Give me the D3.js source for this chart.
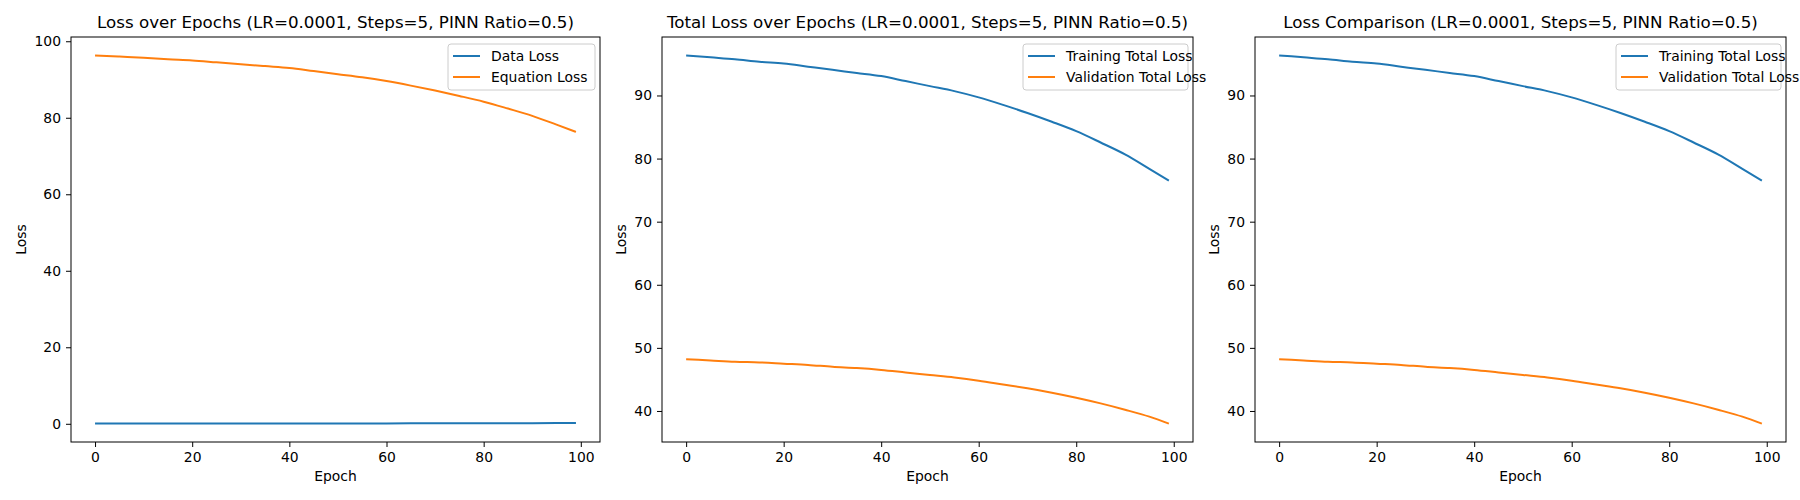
<!DOCTYPE html>
<html>
<head>
<meta charset="utf-8">
<script src="https://cdn.jsdelivr.net/npm/d3@7.9.0/dist/d3.min.js"></script>
<style>
  body { margin: 0; background: #fff; }
  text { font-family: "DejaVu Sans", sans-serif; fill: #000; }
</style>
</head>
<body>
<svg id="chart" width="1800" height="500"></svg>
<script>
// Epochs
const epochs = [0, 5, 10, 15, 20, 25, 30, 35, 40, 45, 50, 55, 60, 65, 70, 75, 80, 85, 90, 95, 99];
const dataLoss = [0.05, 0.05, 0.05, 0.05, 0.06, 0.06, 0.06, 0.07, 0.07, 0.08, 0.08, 0.09, 0.10, 0.11, 0.12, 0.13, 0.14, 0.15, 0.17, 0.18, 0.2];
const equationLoss = [96.3, 96.0, 95.7, 95.3, 95.0, 94.5, 94.0, 93.5, 93.0, 92.2, 91.4, 90.6, 89.6, 88.4, 87.1, 85.7, 84.2, 82.4, 80.5, 78.2, 76.3];
const trainingTotal = [96.35, 96.05, 95.75, 95.35, 95.06, 94.56, 94.06, 93.57, 93.07, 92.28, 91.48, 90.69, 89.7, 88.51, 87.22, 85.83, 84.34, 82.55, 80.67, 78.38, 76.5];
const validationTotal = [48.2, 48.0, 47.8, 47.7, 47.5, 47.3, 47.0, 46.8, 46.5, 46.1, 45.7, 45.3, 44.8, 44.2, 43.6, 42.9, 42.1, 41.2, 40.2, 39.1, 38.0];

const xTicks = [0, 20, 40, 60, 80, 100];
const blue = '#1f77b4', orange = '#ff7f0e';

const panels = [
  { left: 71, right: 600, title: 'Loss over Epochs (LR=0.0001, Steps=5, PINN Ratio=0.5)',
    series: [{ name: 'Data Loss', values: dataLoss, color: blue },
             { name: 'Equation Loss', values: equationLoss, color: orange }] },
  { left: 662, right: 1193, title: 'Total Loss over Epochs (LR=0.0001, Steps=5, PINN Ratio=0.5)',
    series: [{ name: 'Training Total Loss', values: trainingTotal, color: blue },
             { name: 'Validation Total Loss', values: validationTotal, color: orange }] },
  { left: 1255, right: 1786, title: 'Loss Comparison (LR=0.0001, Steps=5, PINN Ratio=0.5)',
    series: [{ name: 'Training Total Loss', values: trainingTotal, color: blue },
             { name: 'Validation Total Loss', values: validationTotal, color: orange }] }
];

const plotTop = 37, plotBottom = 442;
const svg = d3.select('#chart');

function pad(ext) {
  const m = (ext[1] - ext[0]) * 0.05;
  return [ext[0] - m, ext[1] + m];
}

panels.forEach((p) => {
  const g = svg.append('g');
  const x = d3.scaleLinear().domain(pad([0, 99])).range([p.left, p.right]);
  const allY = p.series.flatMap((s) => s.values);
  const y = d3.scaleLinear().domain(pad(d3.extent(allY))).range([plotBottom, plotTop]);

  const line = d3.line().x((d, i) => x(epochs[i])).y((d) => y(d)).curve(d3.curveMonotoneX);
  p.series.forEach((s) => {
    g.append('path').datum(s.values).attr('d', line)
      .attr('fill', 'none').attr('stroke', s.color).attr('stroke-width', 2);
  });

  // axes
  const xa = g.append('g').attr('transform', `translate(0,${plotBottom})`)
    .call(d3.axisBottom(x).tickValues(xTicks).tickSize(5).tickPadding(5));
  const ya = g.append('g').attr('transform', `translate(${p.left},0)`)
    .call(d3.axisLeft(y).ticks(6).tickSize(5).tickPadding(5));
  [xa, ya].forEach((a) => {
    a.select('.domain').remove();
    a.selectAll('text').style('font-size', '13.9px');
  });

  g.append('rect').attr('x', p.left).attr('y', plotTop)
    .attr('width', p.right - p.left).attr('height', plotBottom - plotTop)
    .attr('fill', 'none').attr('stroke', '#000').attr('stroke-width', 1);

  g.append('text').attr('x', (p.left + p.right) / 2).attr('y', plotTop - 9)
    .attr('text-anchor', 'middle').style('font-size', '16.7px').text(p.title);
  g.append('text').attr('x', (p.left + p.right) / 2).attr('y', 481)
    .attr('text-anchor', 'middle').style('font-size', '13.9px').text('Epoch');
  const yl = p.left === 71 ? 26 : p.left - 36;
  g.append('text').attr('transform', `translate(${yl},${(plotTop + plotBottom) / 2}) rotate(-90)`)
    .attr('text-anchor', 'middle').style('font-size', '13.9px').text('Loss');

  // legend
  const lw = p.series[0].name === 'Data Loss' ? 147 : 165;
  const lg = g.append('g').attr('transform', `translate(${p.right - 5 - lw},${plotTop + 7})`);
  lg.append('rect').attr('width', lw).attr('height', 46).attr('rx', 3)
    .attr('fill', '#fff').attr('fill-opacity', 0.8).attr('stroke', '#ccc');
  p.series.forEach((s, i) => {
    const yy = 12 + i * 21;
    lg.append('line').attr('x1', 5).attr('x2', 32).attr('y1', yy).attr('y2', yy)
      .attr('stroke', s.color).attr('stroke-width', 2);
    lg.append('text').attr('x', 43).attr('y', yy + 5).style('font-size', '13.9px').text(s.name);
  });
});
</script>
</body>
</html>
